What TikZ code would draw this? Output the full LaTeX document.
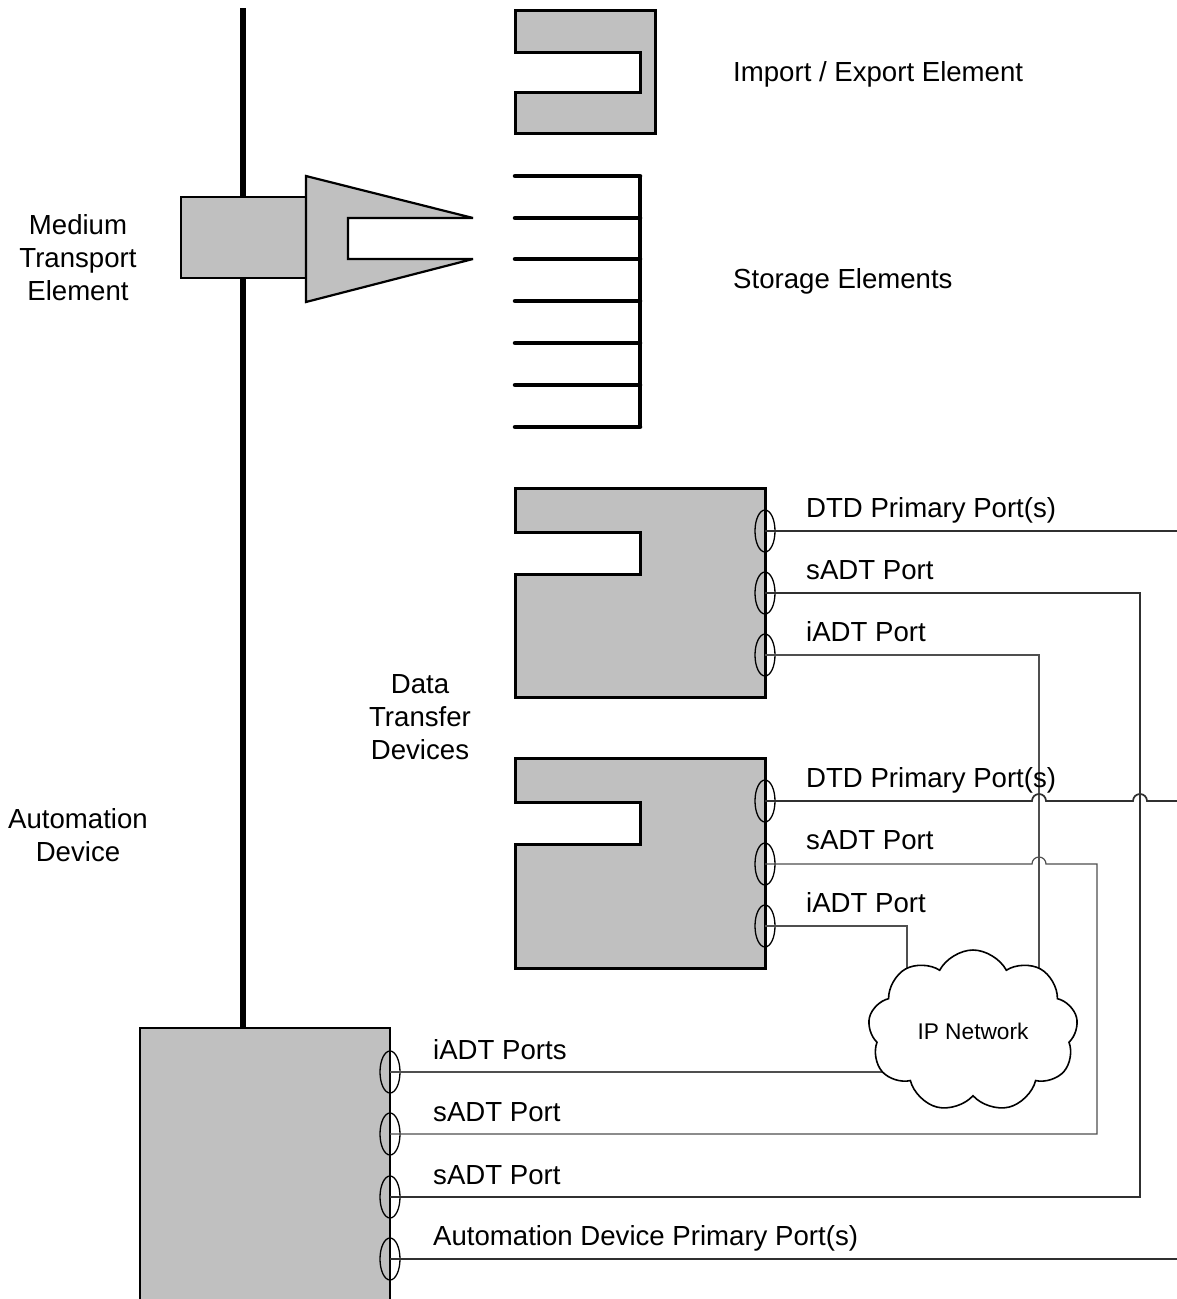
\documentclass[tikz,border=0pt]{standalone}
\usepackage{fontspec}
\setmainfont{Liberation Sans}
\usetikzlibrary{shapes.symbols,shapes.geometric}
\definecolor{boxgray}{HTML}{C0C0C0}
\definecolor{wirec}{HTML}{303030}
\begin{document}
\begin{tikzpicture}[x=1pt,y=1pt,
  lbl/.style={inner sep=0pt, anchor=base west, font=\fontsize{27.6}{33}\selectfont},
  clbl/.style={inner sep=0pt, align=center, font=\fontsize{27.6}{33}\selectfont},
  unit/.style={draw=black, fill=boxgray, line width=3pt, line join=miter},
  port/.style={draw=black, ellipse, line width=1.3pt, minimum width=20pt, minimum height=42pt, inner sep=0pt},
  wire/.style={draw=wirec, line width=1.7pt},
  thinwire/.style={draw=wirec!85, line width=1.2pt},
  shelf/.style={line width=4.5pt, line cap=round},
]
\useasboundingbox (0,0) rectangle (1177,-1299);
\fill[white] (0,0) rectangle (1177,-1299);

% vertical rail
\draw[line width=5.5pt] (243,-8) -- (243,-1030);

% import / export element
\draw[unit] (515,-10) -- (655,-10) -- (655,-133) -- (515,-133) -- (515,-92) -- (640,-92) -- (640,-52) -- (515,-52) -- cycle;

% storage elements
\foreach \yy in {176,218,259,301,343,385,427} \draw[shelf] (515,-\yy) -- (640,-\yy);
\draw[line width=4.5pt] (640,-176) -- (640,-427);

% medium transport element
\draw[draw=black, fill=boxgray, line width=2.2pt] (181,-197) rectangle (306,-278);
\draw[draw=black, fill=boxgray, line width=2.2pt, line join=miter, miter limit=2] (306,-176) -- (473,-218) -- (348,-218) -- (348,-259) -- (473,-259) -- (306,-302) -- cycle;

% data transfer devices
\draw[unit] (515,-488) -- (765,-488) -- (765,-697) -- (515,-697) -- (515,-574) -- (640,-574) -- (640,-532) -- (515,-532) -- cycle;
\draw[unit] (515,-758) -- (765,-758) -- (765,-968) -- (515,-968) -- (515,-844) -- (640,-844) -- (640,-802) -- (515,-802) -- cycle;

% automation device
\begin{scope}
\clip (0,0) rectangle (1177,-1299);
\draw[fill=boxgray, line width=2.5pt] (140,-1310) -- (140,-1028) -- (390,-1028) -- (390,-1310);
\end{scope}

% ports
\node[port] (d1a) at (765,-531) {};
\node[port] (d1b) at (765,-593) {};
\node[port] (d1c) at (765,-655) {};
\node[port] (d2a) at (765,-801) {};
\node[port] (d2b) at (765,-864) {};
\node[port] (d2c) at (765,-926) {};
\node[port] (ada) at (390,-1072) {};
\node[port] (adb) at (390,-1134) {};
\node[port] (adc) at (390,-1197) {};
\node[port] (add) at (390,-1259) {};

% connectors
\coordinate (cc) at (973,-1031);
\coordinate (e1) at (1177,-531);
\coordinate (e2) at (1177,-801);
\coordinate (e3) at (1177,-1259);
\coordinate (k1) at (1140,-593);
\coordinate (k2) at (1039,-655);
\coordinate (k3) at (907,-926);
\draw[wire] (d1a.center) -- (e1);
\draw[wire] (d1b.center) -- (k1) |- (adc.center);
\draw[thinwire] (d1c.center) -- (k2) -- (k2 |- cc);
\draw[wire] (d2a.center) -- (1032,-801) arc[start angle=180, end angle=0, radius=7] -- (1133,-801) arc[start angle=180, end angle=0, radius=7] -- (e2);
\draw[thinwire] (d2b.center) -- (1032,-864) arc[start angle=180, end angle=0, radius=7] -- (1097,-864) |- (adb.center);
\draw[thinwire] (d2c.center) -- (k3) -- (k3 |- cc);
\draw[thinwire] (ada.center) -- (ada -| cc);
\draw[wire] (add.center) -- (e3);

% cloud
\node[cloud, cloud puffs=9, cloud puff arc=125, aspect=1.3, draw=black, fill=white, line width=1.6pt, minimum width=210pt, minimum height=162pt, inner sep=0pt, font=\fontsize{22.7}{26}\selectfont] (net) at (cc) {IP Network};

% labels
\node[lbl] (t1) at (733,-81) {Import / Export Element};
\node[lbl] (t2) at (733,-288.5) {Storage Elements};
\node[clbl] (t3) at (78,-258) {Medium\\Transport\\Element};
\node[lbl] (t4) at (806,-517) {DTD Primary Port(s)};
\node[lbl] (t5) at (806,-579) {sADT Port};
\node[lbl] (t6) at (806,-641) {iADT Port};
\node[clbl] (t7) at (420,-717) {Data\\Transfer\\Devices};
\node[lbl] (t8) at (806,-787) {DTD Primary Port(s)};
\node[lbl] (t9) at (806,-849) {sADT Port};
\node[lbl] (t10) at (806,-912) {iADT Port};
\node[clbl] (t11) at (78,-835.5) {Automation\\Device};
\node[lbl] (t12) at (433,-1059) {iADT Ports};
\node[lbl] (t13) at (433,-1121) {sADT Port};
\node[lbl] (t14) at (433,-1184) {sADT Port};
\node[lbl] (t15) at (433,-1245) {Automation Device Primary Port(s)};
\end{tikzpicture}
\end{document}
